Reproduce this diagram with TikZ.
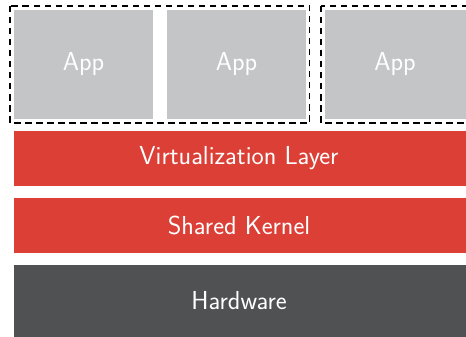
\documentclass[tikz,border=0pt]{standalone}
\definecolor{appgray}{HTML}{C4C5C7}
\definecolor{layerred}{HTML}{DB3F36}
\definecolor{hwgray}{HTML}{505153}
\tikzset{
  px/.style={x=1pt,y=-1pt},
  labeltext/.style={draw=none, text=white, font=\sffamily\fontsize{26}{30}\selectfont},
  container/.style={draw=black, line width=1.8pt, dash pattern=on 6.5pt off 4.5pt},
}
\begin{document}
\begin{tikzpicture}[px]
\useasboundingbox (0,0) rectangle (466,337);
\clip (0,0) rectangle (466,337);
% apps
\fill[appgray] (14,10) rectangle (153,119);
\node[labeltext] (app1) at (83.5,64.5) {App};
\fill[appgray] (167,10) rectangle (306,119);
\node[labeltext] (app2) at (236.5,64.5) {App};
\fill[appgray] (325,10) rectangle (466,119);
\node[labeltext] (app3) at (395,64.5) {App};
% containers
\draw[container] (10,6) rectangle (309.5,123);
\draw[container] (321,6) rectangle (470,123);
% layers
\fill[layerred] (14,131) rectangle (466,186);
\node[labeltext] (virt) at (239,158.5) {Virtualization Layer};
\fill[layerred] (14,198) rectangle (466,253);
\node[labeltext] (kern) at (239,225.5) {Shared Kernel};
\fill[hwgray] (14,265) rectangle (466,340);
\node[labeltext] (hw) at (239,301) {Hardware};
\end{tikzpicture}
\end{document}
